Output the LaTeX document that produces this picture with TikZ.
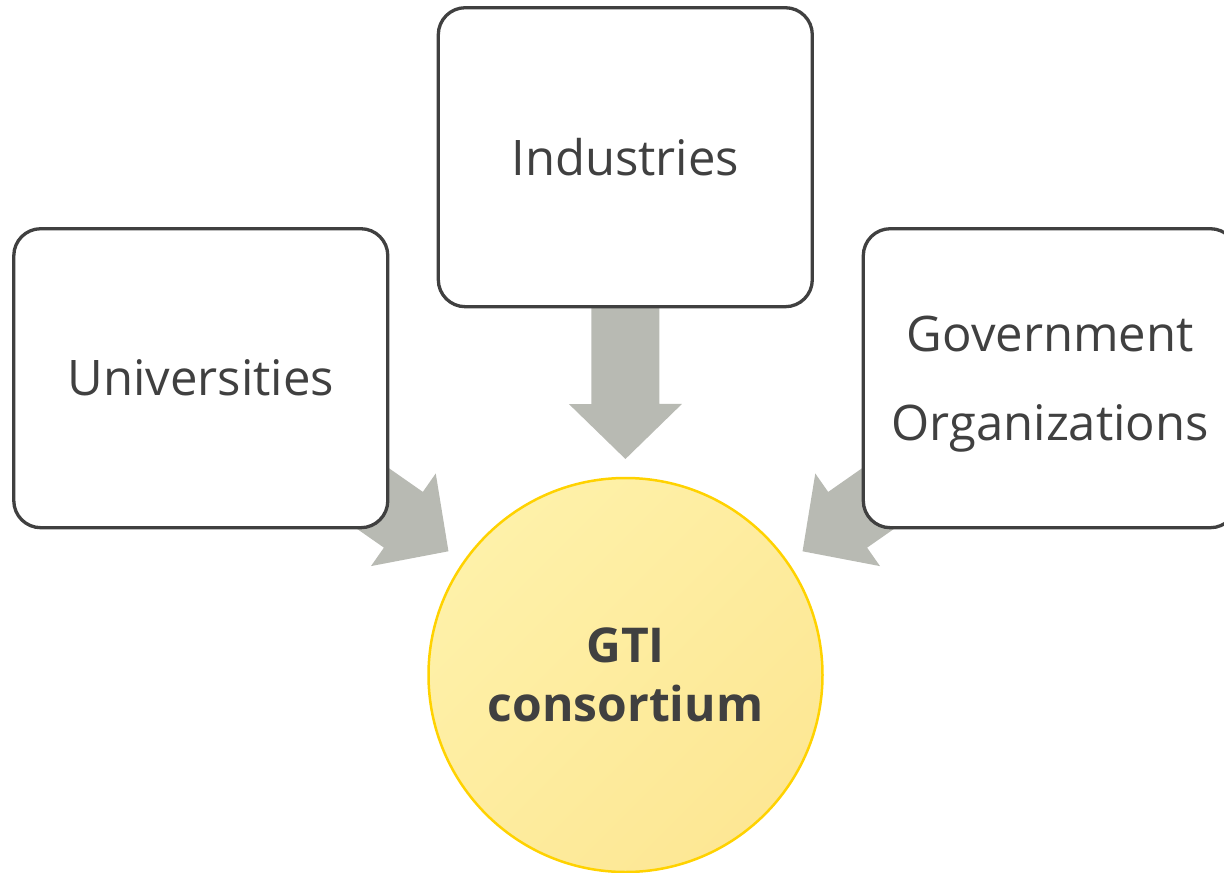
\documentclass[tikz,border=0pt]{standalone}
\usepackage{fontspec}
\setmainfont{Open Sans}
\usetikzlibrary{calc,backgrounds}
\definecolor{inkgray}{HTML}{404040}
\definecolor{flowgray}{HTML}{B8BAB3}
\definecolor{sunrim}{HTML}{FFD200}
\definecolor{sunlight}{HTML}{FEF1A9}
\definecolor{sundark}{HTML}{FDE794}

\begin{document}
\begin{tikzpicture}[x=1pt,y=-1pt,
party/.style={draw=inkgray, line width=3.3pt, rounded corners=27pt, fill=white,
  minimum width=374pt, minimum height=299pt, inner sep=0pt, align=center,
  text=inkgray, font=\fontsize{49}{89}\selectfont},
hub/.style={circle, draw=sunrim, line width=2.5pt, minimum size=394pt, inner sep=0pt,
  top color=sunlight, bottom color=sundark, shading angle=45, align=center,
  text=inkgray, font=\fontsize{48}{59}\selectfont\bfseries},
flow/.style={fill=flowgray}]
\newcommand\feedarrow[2]{
\coordinate (tip) at ($(#2)!216pt!(#1)$);
\coordinate (base) at ($(#2)!271pt!(#1)$);
\fill[flow] ($(#1)!34pt!90:(#2)$) -- ($(base)!34pt!90:(#2)$) -- ($(base)!56.5pt!90:(#2)$)
  -- (tip) -- ($(base)!56.5pt!-90:(#2)$) -- ($(base)!34pt!-90:(#2)$) -- ($(#1)!34pt!-90:(#2)$) -- cycle;
}
\useasboundingbox (0,0) rectangle (1224,873);
\clip (0,0) rectangle (1224,873);

\node[party] (uni) at (200.8,378.2) {Universities};
\node[party] (ind) at (625.3,157.2) {Industries};
\node[party, text depth=0pt] (gov) at (1050.3,378.2) {Government\\Organizations};
\node[hub] (gti) at (625.5,675) {GTI\\consortium};

\begin{scope}[on background layer]
\feedarrow{uni}{gti}
\feedarrow{ind}{gti}
\feedarrow{gov}{gti}
\end{scope}
\end{tikzpicture}
\end{document}
